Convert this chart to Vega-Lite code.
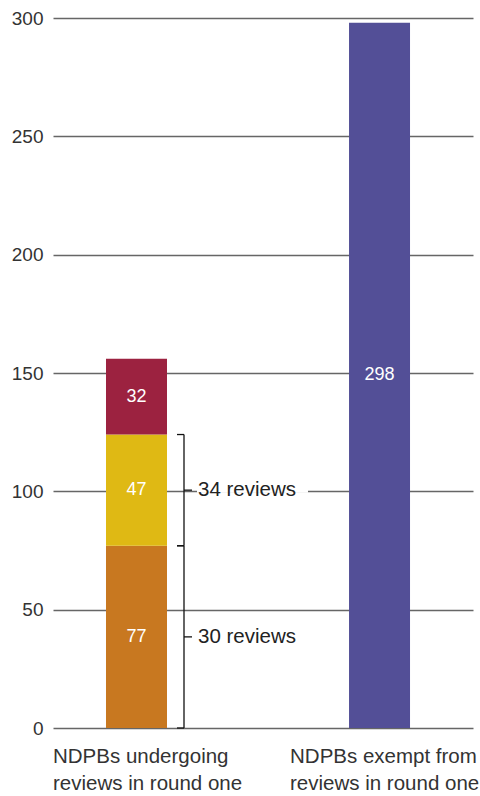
{
  "$schema": "https://vega.github.io/schema/vega-lite/v6.json",
  "width": 420,
  "height": 710,
  "autosize": {"type": "none"},
  "padding": {"left": 53, "top": 18, "right": 7, "bottom": 68},
  "background": "white",
  "config": {
    "view": {"stroke": null},
    "font": "Liberation Sans",
    "axis": {"labelFont": "Liberation Sans", "titleFont": "Liberation Sans"}
  },
  "datasets": {
    "bars": [
      {"cat": "NDPBs undergoing|reviews in round one", "seg": "s1", "value": 77, "k": 1},
      {"cat": "NDPBs undergoing|reviews in round one", "seg": "s2", "value": 47, "k": 2},
      {"cat": "NDPBs undergoing|reviews in round one", "seg": "s3", "value": 32, "k": 3},
      {"cat": "NDPBs exempt from|reviews in round one", "seg": "s4", "value": 298, "k": 1}
    ],
    "groups": [
      {"cat": "NDPBs undergoing|reviews in round one", "lo": 0, "hi": 77, "mid": 38.5, "label": "30 reviews"},
      {"cat": "NDPBs undergoing|reviews in round one", "lo": 77, "hi": 124, "mid": 100.5, "label": "34 reviews"}
    ]
  },
  "encoding": {
    "x": {
      "field": "cat",
      "type": "nominal",
      "sort": null,
      "scale": {"type": "band", "domain": ["NDPBs undergoing|reviews in round one", "NDPBs exempt from|reviews in round one"], "paddingInner": 0.749, "paddingOuter": 0.2386, "align": 0.457},
      "axis": {
        "title": null,
        "domain": false,
        "ticks": false,
        "grid": false,
        "labelAngle": 0,
        "labelExpr": "split(datum.label, '|')",
        "labelFontSize": 20.5,
        "labelColor": "#333333",
        "labelLineHeight": 27,
        "labelBaseline": "top",
        "labelPadding": 18,
        "labelAlign": "left",
        "labelLimit": 0,
        "labelOverlap": false,
        "labelBound": false,
        "labelOffset": {"condition": {"test": "datum.value == 'NDPBs undergoing|reviews in round one'", "value": -83.5}, "value": -89.5}
      }
    }
  },
  "layer": [
    {
      "data": {"name": "bars"},
      "mark": {"type": "bar"},
      "encoding": {
        "y": {
          "field": "value",
          "type": "quantitative",
          "stack": "zero",
          "scale": {"domain": [0, 300], "nice": false},
          "axis": {
            "title": null,
            "values": [0, 50, 100, 150, 200, 250, 300],
            "domain": false,
            "ticks": false,
            "grid": true,
            "gridColor": "#666666",
            "gridWidth": 1.3,
            "gridOpacity": 1,
            "labelFontSize": 19,
            "labelColor": "#333333",
            "labelPadding": 10
          }
        },
        "color": {
          "field": "seg",
          "type": "nominal",
          "scale": {"domain": ["s1", "s2", "s3", "s4"], "range": ["#C87820", "#DFB914", "#9C2240", "#534F97"]},
          "legend": null
        },
        "order": {"field": "k"}
      }
    },
    {
      "data": {"name": "bars"},
      "mark": {"type": "text", "color": "white", "fontSize": 18, "fontWeight": 500, "baseline": "middle", "align": "center"},
      "encoding": {
        "y": {"field": "value", "type": "quantitative", "stack": "zero", "bandPosition": 0.5},
        "detail": {"field": "seg"},
        "order": {"field": "k"},
        "text": {"field": "value", "type": "quantitative"}
      }
    },
    {
      "data": {"name": "groups"},
      "mark": {"type": "tick", "color": "white", "thickness": 5, "size": 111, "xOffset": 116, "opacity": 1},
      "encoding": {"y": {"field": "mid", "type": "quantitative"}}
    },
    {
      "data": {"name": "groups"},
      "mark": {"type": "rule", "color": "#111111", "strokeWidth": 1.3, "xOffset": 47.5},
      "encoding": {
        "y": {"field": "lo", "type": "quantitative"},
        "y2": {"field": "hi"}
      }
    },
    {
      "data": {"name": "groups"},
      "mark": {"type": "tick", "color": "#111111", "thickness": 1.3, "size": 7, "xOffset": 44, "opacity": 1},
      "encoding": {"y": {"field": "lo", "type": "quantitative"}}
    },
    {
      "data": {"name": "groups"},
      "mark": {"type": "tick", "color": "#111111", "thickness": 1.3, "size": 7, "xOffset": 44, "opacity": 1},
      "encoding": {"y": {"field": "hi", "type": "quantitative"}}
    },
    {
      "data": {"name": "groups"},
      "mark": {"type": "tick", "color": "#111111", "thickness": 1.3, "size": 8, "xOffset": 51.5, "opacity": 1},
      "encoding": {"y": {"field": "mid", "type": "quantitative"}}
    },
    {
      "data": {"name": "groups"},
      "mark": {"type": "text", "color": "#222222", "fontSize": 20.5, "align": "left", "baseline": "middle", "dx": 61.5},
      "encoding": {
        "y": {"field": "mid", "type": "quantitative"},
        "text": {"field": "label"}
      }
    }
  ]
}
